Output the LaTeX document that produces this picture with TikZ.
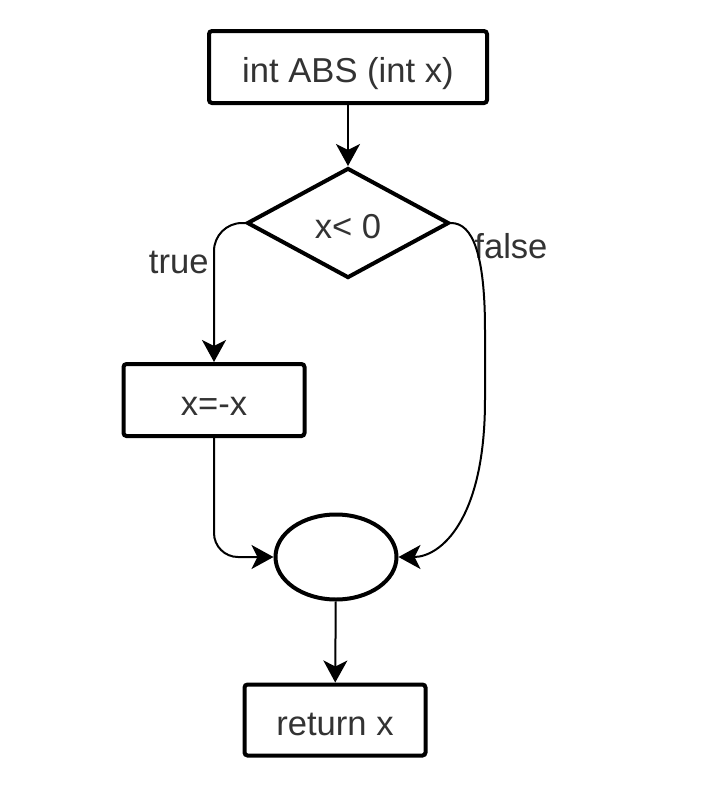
\documentclass[tikz,border=0pt]{standalone}
\usepackage{fontspec}
\setmainfont{Liberation Sans}
\usetikzlibrary{shapes.geometric,arrows.meta}
\begin{document}
\begin{tikzpicture}[x=0.5pt, y=-0.5pt,
    every node/.style={font=\fontsize{17.3}{20}\selectfont, text=black!80, align=center},
    box/.style={rectangle, draw=black, line width=2pt, rounded corners=1.5pt, minimum width=90.5pt, minimum height=36pt, inner sep=0pt, text height=15.5pt, text depth=0.5pt},
    cond/.style={diamond, draw=black, line width=2pt, minimum width=101pt, minimum height=55pt, inner sep=0pt, text height=15.5pt, text depth=0.5pt},
    joint/.style={ellipse, draw=black, line width=2pt, minimum width=60.5pt, minimum height=42.5pt, inner sep=0pt},
    arr/.style={-{Stealth[length=11pt, width=12pt, inset=3pt]}, line width=1pt, black},
    lbl/.style={inner sep=0pt}
]
\useasboundingbox (0,0) rectangle (716,800);
\node[box, minimum width=139pt] (fn)    at (348,67)  {int ABS (int x)};
\node[cond]                     (test)  at (348,223) {x< 0};
\node[box]                      (neg)   at (214,400) {x=-x};
\node[joint]                    (merge) at (336,557) {};
\node[box, minimum height=35.5pt] (ret) at (335,720) {return x};
\node[lbl, anchor=east] (tlab) at (209,262) {true};
\node[lbl, anchor=west] (flab) at (474,246) {false};
\draw[arr] (fn) -- (test);
\draw[arr, rounded corners=14pt] (test.west) -| (neg.north);
\draw[arr, rounded corners=12pt] (neg.south) |- (merge.west);
\draw[arr] (test.east) .. controls +(22,0) and +(0,-75) .. (485,330)
    -- (485,400) .. controls +(0,120) and +(42,0) .. (merge.east);
\draw[arr] (merge) -- (ret);
\end{tikzpicture}
\end{document}
